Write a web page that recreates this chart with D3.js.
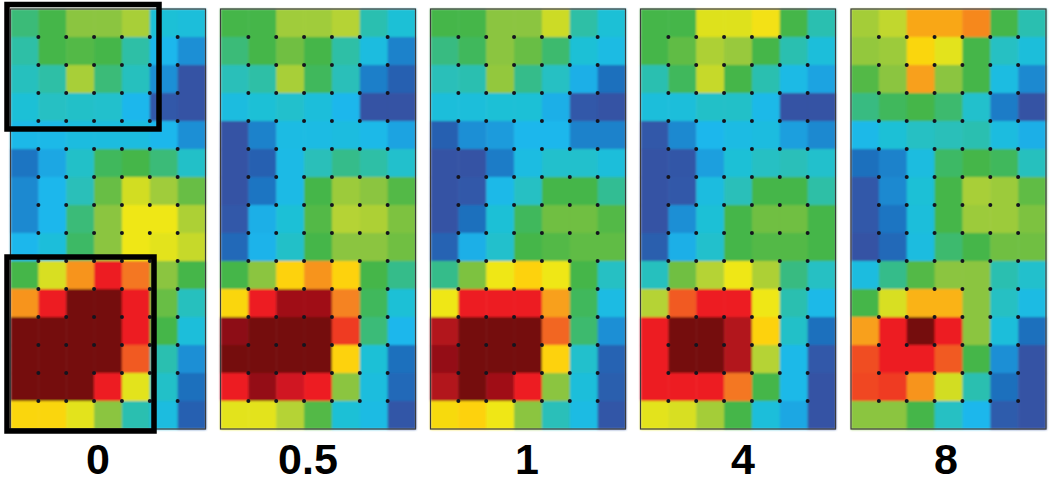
<!DOCTYPE html>
<html>
<head>
<meta charset="utf-8">
<script src="https://cdn.jsdelivr.net/npm/d3@7"></script>
<style>
  html, body { margin: 0; padding: 0; background: #fff; overflow: hidden; }
  .panelLabel { font-family: "Liberation Sans", Arial, sans-serif; font-weight: bold; font-size: 43px; fill: #000; text-anchor: middle; }
</style>
</head>
<body>
<div id="chart"></div>
<script>
// Values, on the colour index below (1 = dark blue, 16 = dark red)
var panelLabels = ["0", "0.5", "1", "4", "8"];

var grid0 = [
  [6.5, 7, 8, 8, 8.7, 5, 4.8],
  [6, 7, 7.2, 7, 6, 4, 3],
  [5.5, 6, 8.7, 6.5, 5.5, 3, 1],
  [5, 5.4, 5.3, 5.2, 4, 1.2, 0.9],
  [4.2, 4.2, 4.6, 4.6, 4.6, 4, 3],
  [2.2, 3.6, 5.3, 6.8, 7, 6.5, 5.3],
  [2.8, 4, 5.6, 7.5, 9.5, 8.5, 7.5],
  [2.8, 4, 6.5, 8, 10, 10, 8.8],
  [4, 4.8, 6.7, 8, 10, 9.8, 9.3],
  [7, 9.6, 12, 14, 12.5, 8, 7],
  [12, 14, 16, 16, 14, 7.5, 5.5],
  [16, 16, 16, 16, 14, 7, 4.8],
  [16, 16, 16, 16, 13, 5.8, 3],
  [16, 16, 16, 14, 9.8, 5.3, 2],
  [10.8, 10.8, 9.8, 8, 5.8, 4.6, 1.5]
];
var grid05 = [
  [7, 7, 8.5, 8.5, 9, 5.8, 5],
  [6.5, 7, 7.6, 7, 6, 4.6, 2.6],
  [5.6, 6, 8.7, 6.8, 5.6, 2.5, 1.5],
  [4.6, 5, 5.2, 4.8, 4, 1, 1],
  [1, 2.6, 4.4, 4.4, 4.6, 4.2, 3.5],
  [0.9, 1.5, 4.3, 5.6, 6.3, 6, 5.2],
  [0.9, 2.2, 4.3, 7, 8.4, 8, 7.2],
  [1.2, 3.8, 5, 7.2, 9, 8.8, 7.8],
  [1.8, 3.9, 5.3, 7, 8, 8, 7.6],
  [7, 8, 11, 12, 11, 7, 6.3],
  [10.8, 14, 15.3, 15.3, 12.3, 6.8, 5],
  [15.6, 16, 16, 16, 13.5, 6.5, 4],
  [16, 16, 16, 16, 11, 5, 2],
  [14, 15.5, 14.5, 14, 8, 4.7, 1.8],
  [9.8, 9.8, 9, 7.2, 5, 4.4, 1.1]
];
var grid1 = [
  [7, 7, 8, 8, 9.4, 6, 5],
  [6.4, 6.8, 8, 7.5, 6.6, 5, 4.4],
  [5.6, 5.8, 8.2, 6.3, 5.4, 3.8, 2],
  [4.8, 4.8, 5, 5, 3.8, 1.2, 1],
  [1.5, 3, 3.3, 4, 4, 2.6, 2.6],
  [0.9, 1, 2.4, 4.5, 5.2, 5.2, 4.8],
  [0.9, 1.2, 4.2, 5.4, 7, 7, 6.2],
  [1, 2, 5, 6.8, 7.6, 7.6, 7.2],
  [1.6, 3.8, 5.2, 7, 7.2, 7.4, 7.4],
  [6.3, 7.8, 10, 11, 10, 7, 5.4],
  [10, 14, 14, 14, 11.8, 6.8, 4.4],
  [15, 16, 16, 16, 12.8, 6.6, 3],
  [15.5, 16, 16, 16, 11, 5.2, 1.6],
  [15, 16, 15.3, 14, 8, 4.8, 1.4],
  [10.6, 11, 10, 8, 5.6, 4.4, 1.1]
];
var grid4 = [
  [7, 7, 9.7, 9.7, 10.3, 7, 5.8],
  [7, 7.4, 8.8, 8.3, 7, 5.8, 4.8],
  [5.8, 6.8, 9.3, 7, 5.8, 4.3, 3.5],
  [4.8, 4.8, 5.3, 5.3, 4.2, 1, 1],
  [1.2, 2.8, 4, 4.4, 4.6, 3.4, 2.8],
  [0.9, 1.1, 3.4, 5, 5.4, 5.6, 5.2],
  [0.9, 1.2, 4.6, 5.6, 7, 7, 6],
  [1, 3, 5, 7, 7.6, 7.6, 7],
  [1.4, 3.8, 5.2, 7, 7.2, 7.2, 7],
  [5.5, 7.6, 9, 10, 8.8, 6.4, 5.4],
  [9, 13, 14, 14, 10, 5.8, 4.2],
  [14, 16, 16, 15, 11, 5.3, 2],
  [14, 16, 16, 15, 9, 4.2, 1.2],
  [14, 14, 14, 12.5, 7, 4.2, 1],
  [9.8, 9.6, 8.6, 7, 4.8, 3.6, 1]
];
var grid8 = [
  [8.6, 9.2, 11.7, 11.7, 12.2, 7, 5.8],
  [8.2, 8.4, 10.8, 9.8, 7, 5.4, 4.8],
  [7.2, 8, 11.8, 8, 7, 4.5, 2.8],
  [6.4, 6.8, 7, 6.6, 5.2, 2.4, 1],
  [4.2, 5, 5.4, 5.6, 5.8, 4.6, 3.8],
  [2, 2.6, 4.6, 6.7, 7, 6.8, 5.5],
  [1.2, 2.8, 5, 7, 8.7, 8.4, 7.4],
  [1.2, 2.2, 4.8, 7, 8.4, 8.4, 7.8],
  [1, 1.8, 4.6, 6.6, 7, 7.6, 7.6],
  [4.6, 6.3, 7.2, 8, 8, 5.8, 5.2],
  [7, 9.6, 11.5, 11.5, 8, 5.4, 4.4],
  [11.8, 14, 16, 14, 8, 4.8, 2],
  [13.2, 14, 14, 13, 7, 3, 1],
  [13.3, 13.5, 12, 9.5, 5.8, 2, 1],
  [8, 8, 7, 5.4, 4, 1.3, 0.9]
];
var grids = [grid0, grid05, grid1, grid4, grid8];

var colorStops = [1, 2, 3, 4, 5, 6, 7, 8, 9, 10, 11, 12, 13, 14, 15, 16];
var colorRange = ["#3653a4", "#1a6fbd", "#1e8fd5", "#1fb7ec", "#1fc0d6", "#2fbfa6",
                  "#45b649", "#8bc53f", "#b5d334", "#efe714", "#fdd20e", "#f7941e",
                  "#f15a24", "#ed1c24", "#b2141c", "#75090e"];

// Layout
var svgWidth = 1050;
var svgHeight = 477;
var panelLeft = [10.5, 220.5, 430.5, 640.5, 851];
var labelCenter = [98, 308, 527, 743, 946];
var panelWidth = 195;
var panelTop = 9;
var panelHeight = 420;

var color = d3.scaleLinear().domain(colorStops).range(colorRange).clamp(true);

var svg = d3.select("#chart").append("svg")
    .attr("width", svgWidth).attr("height", svgHeight);

// The source figure is a soft scan, so blur cells a touch
var defs = svg.append("defs");
defs.append("filter").attr("id", "soft")
    .attr("x", "-2%").attr("y", "-2%").attr("width", "104%").attr("height", "104%")
    .append("feGaussianBlur").attr("stdDeviation", 0.8);

var xScale = d3.scaleBand().domain(d3.range(7)).range([0, panelWidth]);
var yScale = d3.scaleBand().domain(d3.range(15)).range([0, panelHeight]);

grids.forEach(function(grid, p) {
    var panel = svg.append("g")
        .attr("transform", `translate(${panelLeft[p]}, ${panelTop})`);

    var cells = [];
    grid.forEach(function(row, r) {
        row.forEach(function(v, c) { cells.push({r: r, c: c, v: v}); });
    });

    panel.append("g").attr("filter", "url(#soft)")
        .selectAll("rect")
        .data(cells)
        .enter()
        .append("rect")
        .attr("x", d => xScale(d.c))
        .attr("y", d => yScale(d.r))
        .attr("width", xScale.bandwidth() + 0.5)
        .attr("height", yScale.bandwidth() + 0.5)
        .attr("fill", d => color(d.v));

    // Dots sit on the inner grid crossings
    var dots = [];
    d3.range(1, 15).forEach(function(r) {
        d3.range(1, 7).forEach(function(c) { dots.push({r: r, c: c}); });
    });

    panel.append("g")
        .selectAll("circle")
        .data(dots)
        .enter()
        .append("circle")
        .attr("cx", d => xScale(d.c))
        .attr("cy", d => yScale(d.r))
        .attr("r", 2)
        .attr("fill", "#14141e");

    panel.append("rect")
        .attr("width", panelWidth)
        .attr("height", panelHeight)
        .attr("fill", "none")
        .attr("stroke", "#3a3a3a")
        .attr("stroke-width", 1.2);

    svg.append("text")
        .attr("class", "panelLabel")
        .attr("x", labelCenter[p])
        .attr("y", 474)
        .text(panelLabels[p]);
});

// Black highlight boxes on the first panel
svg.append("rect")
    .attr("x", 7).attr("y", 4.5).attr("width", 152).attr("height", 124.5)
    .attr("fill", "none").attr("stroke", "#000").attr("stroke-width", 5.5);
svg.append("rect")
    .attr("x", 7).attr("y", 257).attr("width", 147).attr("height", 174)
    .attr("fill", "none").attr("stroke", "#000").attr("stroke-width", 5.5);
</script>
</body>
</html>
